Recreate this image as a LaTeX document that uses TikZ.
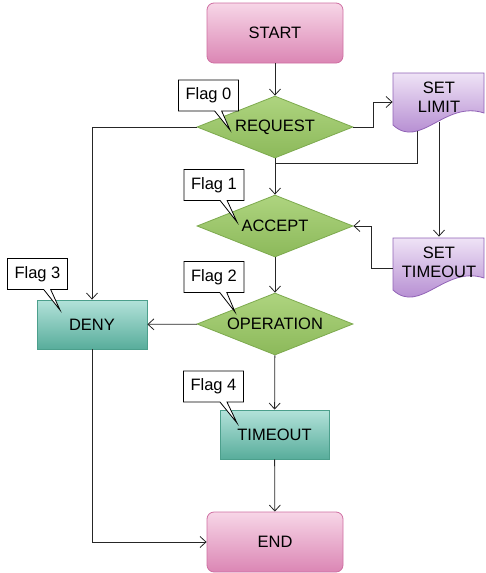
\documentclass[tikz,border=0pt]{standalone}
\usepackage{fontspec}
\setmainfont{Liberation Sans}
\usetikzlibrary{shapes.geometric,shapes.callouts,arrows.meta}

\definecolor{pinktop}{HTML}{F7D6E7}
\definecolor{pinkbot}{HTML}{DB86B4}
\definecolor{pinkline}{HTML}{CF6FA2}
\definecolor{greentop}{HTML}{AED47F}
\definecolor{greenbot}{HTML}{8CB95A}
\definecolor{greenline}{HTML}{7DAA4E}
\definecolor{tealtop}{HTML}{B3E2DA}
\definecolor{tealbot}{HTML}{58AD9B}
\definecolor{tealline}{HTML}{4C9F8C}
\definecolor{purptop}{HTML}{EFE3F6}
\definecolor{purpbot}{HTML}{A676C8}
\definecolor{purpline}{HTML}{9163B6}

\begin{document}
\begin{tikzpicture}[x=1pt,y=1pt,
  font=\fontsize{16.5}{19}\selectfont,
  >={Straight Barb[length=6pt,width=11pt]},
  every path/.style={line width=0.8pt},
  term/.style={rectangle,rounded corners=7pt,draw=pinkline,top color=pinktop,bottom color=pinkbot,minimum width=136pt,minimum height=60pt},
  test/.style={diamond,aspect=2.5,draw=greenline,top color=greentop,bottom color=greenbot,minimum width=156pt,minimum height=62pt,inner sep=1pt},
  task/.style={rectangle,draw=tealline,top color=tealtop,bottom color=tealbot,minimum width=110pt,minimum height=49pt},
  docshape/.style={draw=purpline,top color=purptop,bottom color=purpbot},
  doctext/.style={rectangle,align=center,minimum width=92pt,minimum height=50pt},
  flag/.style={rectangle callout,draw,fill=white,minimum width=60pt,minimum height=31pt,inner sep=0pt,callout pointer width=7pt},
  line/.style={draw=black!85}]
\useasboundingbox (0,0) rectangle (486,-573);

\node[term] (start) at (275,-33) {START};
\node[test] (request) at (275,-127) {REQUEST};
\node[test] (accept) at (275,-226) {ACCEPT};
\node[test] (op) at (275,-324) {OPERATION};
\node[task] (deny) at (92,-324.5) {DENY};
\node[task,minimum width=109pt] (timeout) at (274.5,-434.5) {TIMEOUT};
\node[term] (end) at (275,-542) {END};

\path[docshape] (393,-73) -- (484,-73) -- (484,-113) .. controls (445,-100) and (420,-150) .. (393,-125)
  coordinate[pos=0.7] (limit-a) -- cycle;
\node[doctext] (limit) at (439,-97) {SET\\LIMIT};
\path[docshape] (393,-238) -- (484,-238) -- (484,-278) .. controls (445,-265) and (420,-315) .. (393,-290) -- cycle;
\node[doctext] (settime) at (439,-262) {SET\\TIMEOUT};

\coordinate (join) at (275,-163);

\draw[line,->] (start) -- (request);
\draw[line,->] (request) -- (accept);
\draw[line,->] (accept) -- (op);
\draw[line,->] (op) -- (timeout);
\draw[line,->] (timeout) -- (end);
\draw[line,->] (op) -- (deny);
\draw[line,->] (request.west) -| (deny.north);
\draw[line,->] (deny.south) |- (end.west);
\draw[line,->] (request.east) -- ++(20,0) |- ([yshift=-5pt]limit.west);
\draw[line] (limit-a) |- (join);
\draw[line,->] (limit.south) -- (settime.north);
\draw[line,->] ([yshift=-6pt]settime.west) -- ++(-21,0) |- (accept.east);

\node[flag,callout absolute pointer={(230,-130)}] (flag0) at (208.5,-95.5) {Flag 0};
\node[flag,callout absolute pointer={(237,-222)}] (flag1) at (214,-185) {Flag 1};
\node[flag,callout absolute pointer={(235,-312)}] (flag2) at (214,-277) {Flag 2};
\node[flag,callout absolute pointer={(60,-310)}] (flag3) at (37.5,-274) {Flag 3};
\node[flag,callout absolute pointer={(237,-423)}] (flag4) at (213.5,-386.5) {Flag 4};
\end{tikzpicture}
\end{document}
